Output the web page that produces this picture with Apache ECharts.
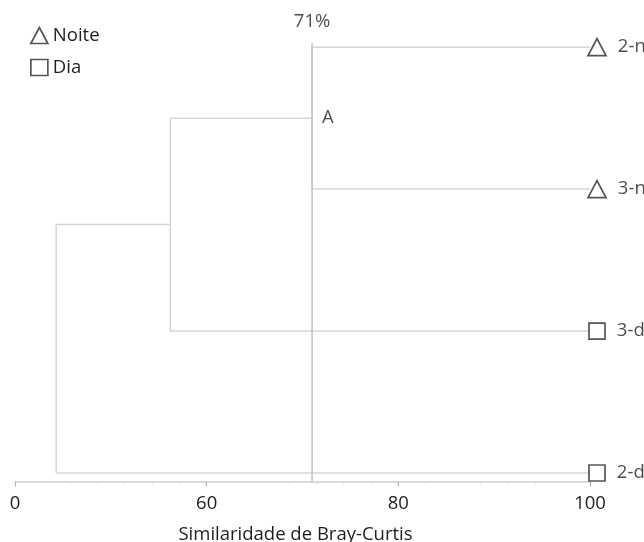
<!DOCTYPE html>
<html><head><meta charset="utf-8">
<script src="https://cdn.jsdelivr.net/npm/echarts@6/dist/echarts.min.js"></script>
<style>html,body{margin:0;padding:0;background:#fff}#c{width:644px;height:542px}</style>
</head><body><div id="c"></div>
<script>
// Leaves (top to bottom) and their group
const leaves = ['2-n', '3-n', '3-d', '2-d'];
const leafGroups = ['Noite', 'Noite', 'Dia', 'Dia'];
// Similarity (axis units) at which clusters join: (2-n,3-n)=A, (A,3-d), (.., 2-d)
const joinSimilarity = [71, 56.2, 44.3];
const cutLevel = 71;
const cutLabel = '71%';
const nodeLabel = 'A';
// x axis ticks (broken axis: first tick shown as 0)
const tickValues = [40, 60, 80, 100];
const tickLabels = ['0', '60', '80', '100'];
const axisName = 'Similaridade de Bray-Curtis';

const leafY = leaves.map((_, i) => leaves.length - 1 - i);
const maxX = tickValues[tickValues.length - 1];
const minX = tickValues[0];
const yMin = -0.06, yMax = 3.1;
const FONT = 'Open Sans', FS = 18.5, TXT = '#1e1e1e';

// Build dendrogram segments
const segs = [];
let aY = (leafY[0] + leafY[1]) / 2;
segs.push([[maxX, leafY[0]], [joinSimilarity[0], leafY[0]], [joinSimilarity[0], leafY[1]], [maxX, leafY[1]]]);
let bY = (aY + leafY[2]) / 2;
segs.push([[joinSimilarity[0], aY], [joinSimilarity[1], aY], [joinSimilarity[1], leafY[2]], [maxX, leafY[2]]]);
segs.push([[joinSimilarity[1], bY], [joinSimilarity[2], bY], [joinSimilarity[2], leafY[3]], [maxX, leafY[3]]]);

const lineStyle = {color: '#d6d6d6', width: 1.5};
const series = segs.map(s => ({
  type: 'line', data: s, symbol: 'none', silent: true, lineStyle: lineStyle, z: 1
}));
// cut line
series.push({
  type: 'line', data: [[cutLevel, yMin], [cutLevel, 3.03]], symbol: 'none', silent: true,
  lineStyle: {color: '#c2c2c2', width: 1.5}, z: 2
});
// labels "71%" and "A"
series.push({
  type: 'scatter', symbolSize: 0, silent: true,
  data: [{value: [cutLevel, 3.03], label: {show: true, position: 'top', distance: 12, formatter: cutLabel}},
         {value: [cutLevel, aY], label: {show: true, position: 'right', distance: 10, formatter: nodeLabel}}],
  label: {color: TXT, fontSize: FS, fontFamily: FONT}
});
const markerStyle = {color: '#fff', borderColor: '#2a2a2a', borderWidth: 1.7};
['Noite', 'Dia'].forEach(g => {
  series.push({
    name: g, type: 'scatter',
    symbol: g === 'Noite' ? 'triangle' : 'rect',
    symbolSize: g === 'Noite' ? [18, 17] : 16,
    symbolOffset: [7, 0],
    itemStyle: markerStyle, z: 5,
    data: leaves.map((l, i) => leafGroups[i] === g ? {name: l, value: [maxX, leafY[i]]} : null).filter(Boolean),
    label: {show: true, position: 'right', distance: 4, formatter: p => p.name,
            color: TXT, fontSize: FS, fontFamily: FONT, offset: [7, 0]}
  });
});

const chart = echarts.init(document.getElementById('c'));
chart.setOption({
  animation: false,
  backgroundColor: '#fff',
  textStyle: {fontFamily: FONT},
  legend: {
    orient: 'vertical', left: 25, top: 21, itemWidth: 17, itemHeight: 16, itemGap: 13,
    data: ['Noite', 'Dia'],
    itemStyle: {color: '#fff', borderColor: '#2a2a2a', borderWidth: 1.7},
    textStyle: {fontSize: FS, color: TXT, fontFamily: FONT}
  },
  grid: {left: 15, right: 54, top: 33, bottom: 60.5, containLabel: false, outerBoundsMode: 'none'},
  xAxis: {
    type: 'value', min: minX, max: maxX, interval: 20,
    name: axisName, nameLocation: 'middle', nameGap: 44,
    nameTextStyle: {fontSize: FS, color: TXT, fontFamily: FONT, padding: [0, 14, 0, 0]},
    axisLine: {show: true, onZero: false, lineStyle: {color: '#d0d0d0', width: 1.5}},
    axisTick: {show: true, length: 5, lineStyle: {color: '#b5b5b5', width: 1.2}},
    minorTick: {show: true, splitNumber: 7, length: 3, lineStyle: {color: '#e2e2e2'}},
    splitLine: {show: false},
    axisLabel: {fontSize: FS, color: TXT, margin: 13, fontFamily: FONT,
      formatter: v => { const i = tickValues.indexOf(v); return i >= 0 ? tickLabels[i] : ''; }}
  },
  yAxis: {type: 'value', min: yMin, max: yMax, show: false},
  series: series
});
</script></body></html>
